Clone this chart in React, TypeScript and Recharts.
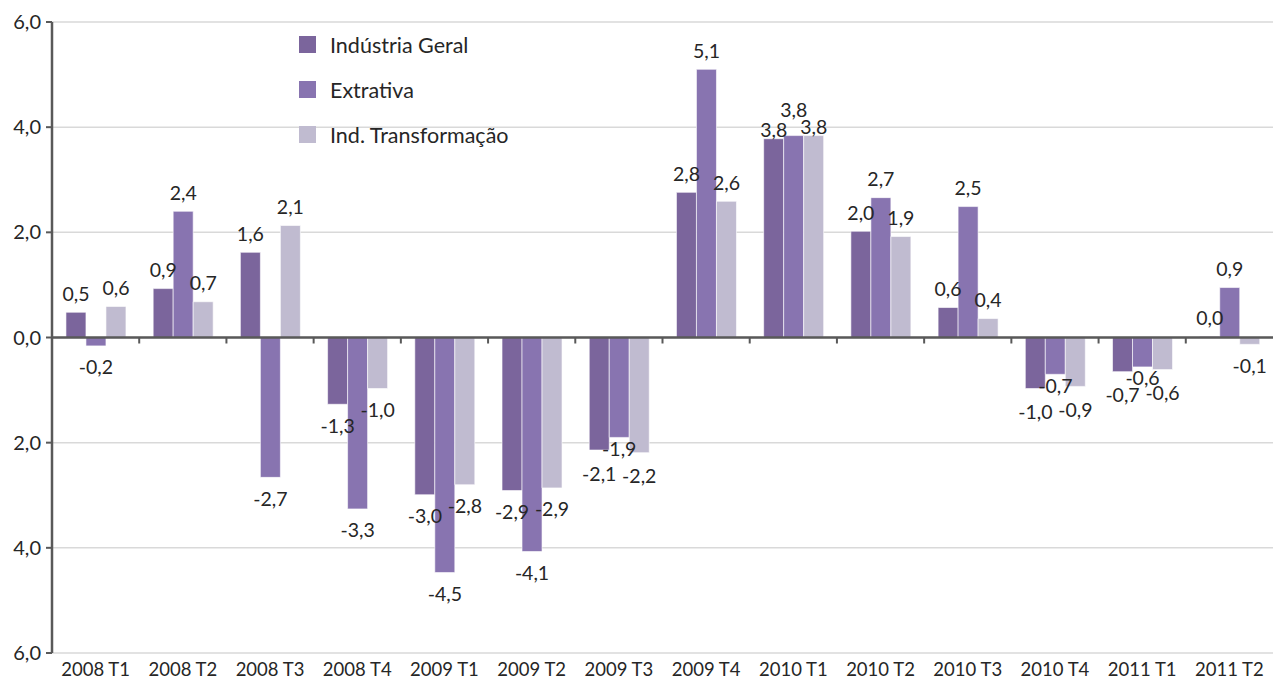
import { BarChart, Bar, XAxis, YAxis, CartesianGrid, ReferenceLine, Legend, LabelList } from "recharts";

const categories = [
  "2008 T1", "2008 T2", "2008 T3", "2008 T4",
  "2009 T1", "2009 T2", "2009 T3", "2009 T4",
  "2010 T1", "2010 T2", "2010 T3", "2010 T4",
  "2011 T1", "2011 T2",
];
const industriaGeral = [0.48, 0.93, 1.62, -1.27, -2.99, -2.91, -2.14, 2.76, 3.78, 2.02, 0.57, -0.97, -0.65, 0.02];
const extrativa = [-0.16, 2.4, -2.66, -3.26, -4.47, -4.07, -1.9, 5.1, 3.84, 2.66, 2.49, -0.7, -0.56, 0.95];
const transformacao = [0.59, 0.68, 2.13, -0.97, -2.8, -2.86, -2.19, 2.59, 3.84, 1.92, 0.36, -0.93, -0.61, -0.13];
const yTicks = [-6, -4, -2, 0, 2, 4, 6];

const series = [
  { key: "ig", name: "Indústria Geral", color: "#7b659c" },
  { key: "ex", name: "Extrativa", color: "#8874b0" },
  { key: "tr", name: "Ind. Transformação", color: "#c0bbd0" },
];

const data = categories.map((cat, i) => ({
  cat,
  ig: industriaGeral[i],
  ex: extrativa[i],
  tr: transformacao[i],
}));

const FONT = "Lato, 'Open Sans', sans-serif";
const fmt = (v: number) => v.toFixed(1).replace(".", ",");

// labels of neighbouring bars crowd each other when the values are close
function crowded(i: number) {
  const e = extrativa[i];
  const near = (v: number) => Math.sign(v) === Math.sign(e) && Math.abs(v - e) < 0.4;
  return near(industriaGeral[i]) || near(transformacao[i]);
}

const makeLabel = (key: string) => (props: any) => {
  const { x, y, width, height, value, index } = props;
  const top = Math.min(y, y + height);
  const bottom = Math.max(y, y + height);
  let ty = value >= 0 ? top - 19 : bottom + 21;
  if (crowded(index)) {
    if (value >= 0) ty += key === "ex" ? -7 : 10;
    else ty += key === "ex" ? -10 : 2;
  }
  return (
    <text
      x={x + width / 2}
      y={ty}
      textAnchor="middle"
      dominantBaseline="central"
      fontFamily={FONT}
      fontSize={19.5}
      fill="#262626"
    >
      {fmt(value)}
    </text>
  );
};

// zero line with small tick marks between categories
function ZeroLine(props: any) {
  const { x1, y1, x2 } = props;
  const step = (x2 - x1) / categories.length;
  const marks = [];
  for (let k = 1; k < categories.length; k++) {
    const mx = x1 + step * k;
    marks.push(<line key={k} x1={mx} x2={mx} y1={y1} y2={y1 + 6} stroke="#595959" strokeWidth={2} />);
  }
  return (
    <g>
      <line x1={x1} x2={x2} y1={y1} y2={y1} stroke="#595959" strokeWidth={2.5} />
      {marks}
    </g>
  );
}

function LegendBox() {
  return (
    <div style={{ fontFamily: FONT, fontSize: 21.5, color: "#262626" }}>
      {series.map((s) => (
        <div key={s.key} style={{ display: "flex", alignItems: "center", height: 45 }}>
          <span style={{ width: 17, height: 17, background: s.color, display: "inline-block", marginRight: 14 }} />
          {s.name}
        </div>
      ))}
    </div>
  );
}

export default function App() {
  return (
    <div style={{ position: "absolute", left: 0, top: 0, background: "#fff" }}>
      <BarChart
        width={1273}
        height={693}
        data={data}
        margin={{ top: 22, right: 0, bottom: 8, left: 0 }}
        barGap={0}
        barCategoryGap="16%"
      >
        <CartesianGrid vertical={false} stroke="#d9d9d9" strokeWidth={1.5} />
        <XAxis
          dataKey="cat"
          axisLine={false}
          tickLine={false}
          height={32}
          tickMargin={4}
          interval={0}
          tick={{ fontFamily: FONT, fontSize: 18.5, fill: "#262626" }}
        />
        <YAxis
          domain={[-6, 6]}
          ticks={yTicks}
          width={52}
          tickSize={6}
          tickMargin={5}
          interval={0}
          axisLine={{ stroke: "#595959", strokeWidth: 2.5 }}
          tickLine={{ stroke: "#595959", strokeWidth: 2 }}
          tickFormatter={(v: number) => fmt(Math.abs(v))}
          tick={{ fontFamily: FONT, fontSize: 20, fill: "#262626" }}
        />
        <Legend
          layout="vertical"
          align="center"
          verticalAlign="middle"
          content={() => <LegendBox />}
          wrapperStyle={{ left: 299, top: 22, width: "auto", height: "auto" }}
        />
        {series.map((s) => (
          <Bar key={s.key} dataKey={s.key} name={s.name} fill={s.color} stroke="#ffffff" strokeWidth={0.6} isAnimationActive={false}>
            <LabelList dataKey={s.key} content={makeLabel(s.key)} />
          </Bar>
        ))}
        <ReferenceLine y={0} shape={ZeroLine} />
      </BarChart>
    </div>
  );
}
